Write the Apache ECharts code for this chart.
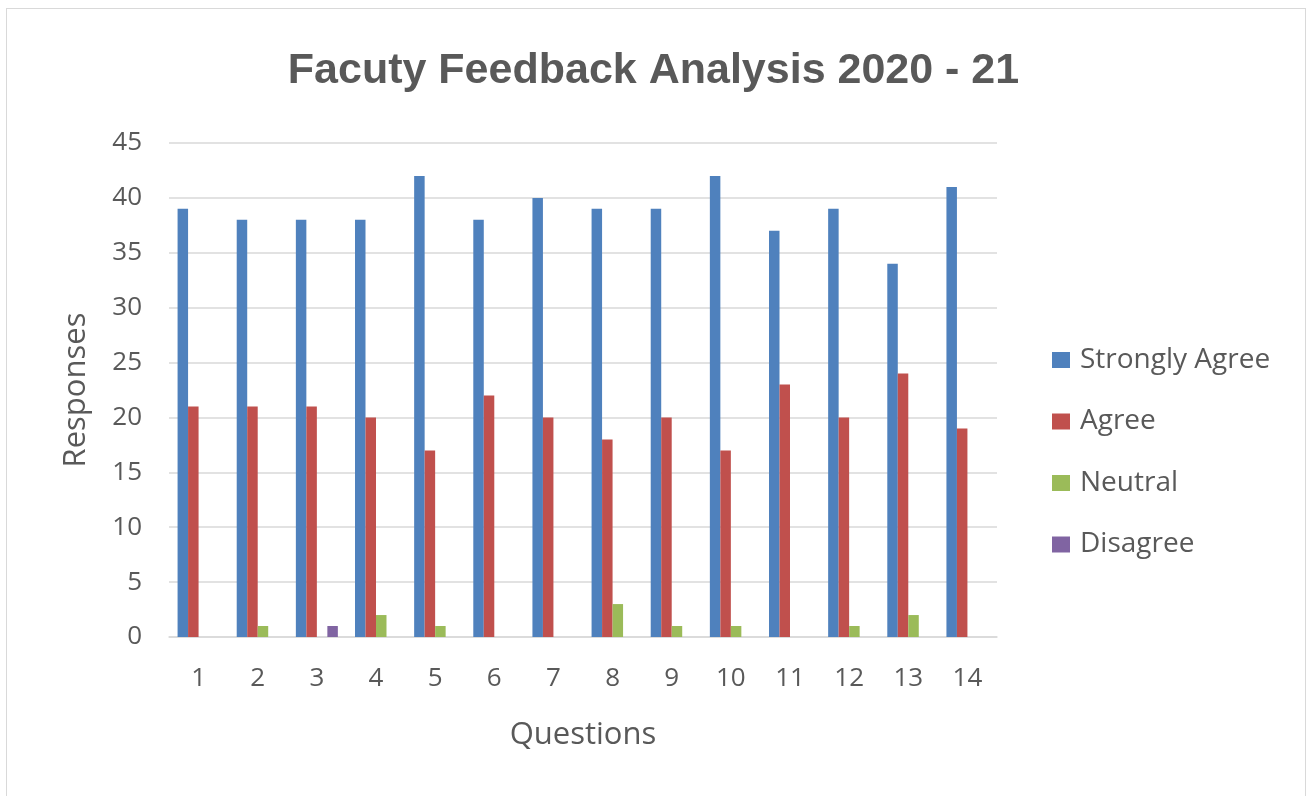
<!DOCTYPE html>
<html>
<head>
<meta charset="utf-8">
<script src="https://cdn.jsdelivr.net/npm/echarts@6/dist/echarts.min.js"></script>
<style>
html,body{margin:0;padding:0;background:#fff;}
#frame{position:absolute;left:6px;top:8px;width:1300px;height:800px;border:1px solid #d9d9d9;box-sizing:border-box;}
#chart{position:absolute;left:0;top:0;width:1307px;height:796px;}
</style>
</head>
<body>
<div id="frame"></div>
<div id="chart"></div>
<script>
const categories = ['1','2','3','4','5','6','7','8','9','10','11','12','13','14'];
const seriesNames = ['Strongly Agree','Agree','Neutral','Disagree'];
const stronglyAgree = [39,38,38,38,42,38,40,39,39,42,37,39,34,41];
const agree = [21,21,21,20,17,22,20,18,20,17,23,20,24,19];
const neutral = [0,1,0,2,1,0,0,3,1,1,0,1,2,0];
const disagree = [0,0,1,0,0,0,0,0,0,0,0,0,0,0];
const yTicks = [0,5,10,15,20,25,30,35,40,45];

const colors = ['#4f81bd','#c0504d','#9bbb59','#8064a2'];
const font = 'Open Sans, Liberation Sans, sans-serif';
const chart = echarts.init(document.getElementById('chart'));
const dataSets = [stronglyAgree, agree, neutral, disagree];
chart.setOption({
  animation:false,
  title:{text:'Facuty Feedback Analysis 2020 - 21',left:'center',top:45,
    textStyle:{fontFamily:'Liberation Sans, sans-serif',fontSize:43,fontWeight:'bold',color:'#595959'}},
  legend:{orient:'vertical',left:1047,top:341,itemGap:33.5,itemWidth:18,itemHeight:16,icon:'rect',
    data:seriesNames,textStyle:{fontFamily:font,fontSize:28,color:'#595959',padding:[0,0,0,5]}},
  grid:{left:169,right:310,top:143,bottom:159},
  xAxis:{type:'category',data:categories,
    name:'Questions',nameLocation:'middle',nameGap:83,
    nameTextStyle:{fontFamily:font,fontSize:31,color:'#595959'},
    axisLine:{lineStyle:{color:'#d9d9d9',width:1.5}},axisTick:{show:false},
    axisLabel:{fontFamily:font,fontSize:26,color:'#595959',margin:29}},
  yAxis:{type:'value',min:yTicks[0],max:yTicks[yTicks.length-1],interval:5,
    name:'Responses',nameLocation:'middle',nameGap:77,
    nameTextStyle:{fontFamily:font,fontSize:31,color:'#595959'},
    axisLine:{show:false},axisTick:{show:false},
    axisLabel:{fontFamily:font,fontSize:26,color:'#595959',margin:27},
    splitLine:{lineStyle:{color:'#d9d9d9',width:1.5}}},
  series: seriesNames.map((n,i)=>({name:n,type:'bar',data:dataSets[i],
    barGap:'0%',barCategoryGap:'29%',itemStyle:{color:colors[i]}}))
});
</script>
</body>
</html>
